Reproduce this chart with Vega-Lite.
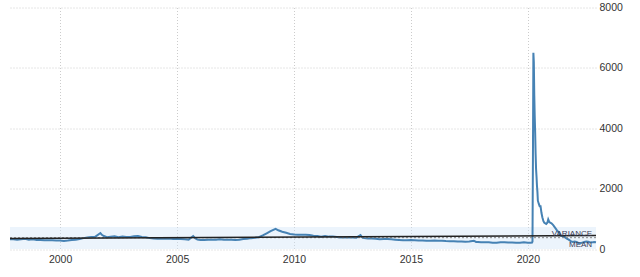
{
  "$schema": "https://vega.github.io/schema/vega-lite/v6.json",
  "autosize": {"type": "none"},
  "width": 586,
  "height": 241.5,
  "padding": {"left": 10, "top": 7.5, "right": 44, "bottom": 28},
  "background": "white",
  "config": {
    "view": {"stroke": null},
    "axis": {"labelFont": "Liberation Sans", "labelFontSize": 10.5, "labelColor": "#333333", "domain": false, "ticks": false, "grid": true, "gridColor": "#cccccc", "gridDash": [1, 2], "gridWidth": 1, "title": null}
  },
  "datasets": {
    "series": [
      {"date": "1997-11-10", "value": 320}, {"date": "1998-01-01", "value": 320}, {"date": "1998-03-01", "value": 310}, {"date": "1998-05-01", "value": 320}, {"date": "1998-07-01", "value": 340}, {"date": "1998-09-01", "value": 310}, {"date": "1998-11-01", "value": 320},
      {"date": "1999-01-01", "value": 300}, {"date": "1999-03-01", "value": 300}, {"date": "1999-05-01", "value": 290}, {"date": "1999-07-01", "value": 290}, {"date": "1999-09-01", "value": 290}, {"date": "1999-11-01", "value": 280},
      {"date": "2000-01-01", "value": 280}, {"date": "2000-03-01", "value": 265}, {"date": "2000-05-01", "value": 280}, {"date": "2000-07-01", "value": 300}, {"date": "2000-09-01", "value": 310}, {"date": "2000-11-01", "value": 330},
      {"date": "2001-01-01", "value": 360}, {"date": "2001-03-01", "value": 380}, {"date": "2001-05-01", "value": 400}, {"date": "2001-07-01", "value": 400}, {"date": "2001-09-22", "value": 530}, {"date": "2001-10-15", "value": 470}, {"date": "2001-11-15", "value": 430},
      {"date": "2002-01-01", "value": 390}, {"date": "2002-03-01", "value": 410}, {"date": "2002-05-01", "value": 420}, {"date": "2002-07-01", "value": 390}, {"date": "2002-09-01", "value": 410}, {"date": "2002-11-01", "value": 400},
      {"date": "2003-01-01", "value": 400}, {"date": "2003-03-01", "value": 420}, {"date": "2003-05-01", "value": 430}, {"date": "2003-07-01", "value": 400}, {"date": "2003-09-01", "value": 390}, {"date": "2003-11-01", "value": 360},
      {"date": "2004-01-01", "value": 350}, {"date": "2004-03-01", "value": 340}, {"date": "2004-05-01", "value": 340}, {"date": "2004-07-01", "value": 340}, {"date": "2004-09-01", "value": 350}, {"date": "2004-11-01", "value": 330},
      {"date": "2005-01-01", "value": 330}, {"date": "2005-03-01", "value": 330}, {"date": "2005-05-01", "value": 320}, {"date": "2005-07-01", "value": 310}, {"date": "2005-09-10", "value": 430}, {"date": "2005-10-10", "value": 360}, {"date": "2005-11-15", "value": 310},
      {"date": "2006-01-01", "value": 300}, {"date": "2006-03-01", "value": 300}, {"date": "2006-05-01", "value": 310}, {"date": "2006-07-01", "value": 310}, {"date": "2006-09-01", "value": 310}, {"date": "2006-11-01", "value": 320},
      {"date": "2007-01-01", "value": 310}, {"date": "2007-03-01", "value": 310}, {"date": "2007-05-01", "value": 310}, {"date": "2007-07-01", "value": 300}, {"date": "2007-09-01", "value": 310}, {"date": "2007-11-01", "value": 330},
      {"date": "2008-01-01", "value": 340}, {"date": "2008-03-01", "value": 360}, {"date": "2008-05-01", "value": 370}, {"date": "2008-07-01", "value": 390}, {"date": "2008-09-01", "value": 450}, {"date": "2008-11-01", "value": 520},
      {"date": "2009-01-01", "value": 590}, {"date": "2009-03-20", "value": 670}, {"date": "2009-05-01", "value": 620}, {"date": "2009-07-01", "value": 570}, {"date": "2009-09-01", "value": 540}, {"date": "2009-11-01", "value": 500},
      {"date": "2010-01-01", "value": 480}, {"date": "2010-03-01", "value": 470}, {"date": "2010-05-01", "value": 470}, {"date": "2010-07-01", "value": 470}, {"date": "2010-09-01", "value": 460}, {"date": "2010-11-01", "value": 440},
      {"date": "2011-01-01", "value": 430}, {"date": "2011-03-01", "value": 410}, {"date": "2011-05-01", "value": 430}, {"date": "2011-07-01", "value": 410}, {"date": "2011-09-01", "value": 410}, {"date": "2011-11-01", "value": 400},
      {"date": "2012-01-01", "value": 380}, {"date": "2012-03-01", "value": 380}, {"date": "2012-05-01", "value": 390}, {"date": "2012-07-01", "value": 380}, {"date": "2012-09-01", "value": 375}, {"date": "2012-11-05", "value": 460}, {"date": "2012-12-10", "value": 370},
      {"date": "2013-01-01", "value": 360}, {"date": "2013-03-01", "value": 350}, {"date": "2013-05-01", "value": 350}, {"date": "2013-07-01", "value": 340}, {"date": "2013-09-01", "value": 320}, {"date": "2013-11-01", "value": 330},
      {"date": "2014-01-01", "value": 330}, {"date": "2014-03-01", "value": 320}, {"date": "2014-05-01", "value": 310}, {"date": "2014-07-01", "value": 300}, {"date": "2014-09-01", "value": 290}, {"date": "2014-11-01", "value": 290},
      {"date": "2015-01-01", "value": 295}, {"date": "2015-03-01", "value": 290}, {"date": "2015-05-01", "value": 285}, {"date": "2015-07-01", "value": 280}, {"date": "2015-09-01", "value": 275}, {"date": "2015-11-01", "value": 275},
      {"date": "2016-01-01", "value": 280}, {"date": "2016-03-01", "value": 270}, {"date": "2016-05-01", "value": 275}, {"date": "2016-07-01", "value": 265}, {"date": "2016-09-01", "value": 260}, {"date": "2016-11-01", "value": 255},
      {"date": "2017-01-01", "value": 250}, {"date": "2017-03-01", "value": 245}, {"date": "2017-05-01", "value": 240}, {"date": "2017-07-01", "value": 245}, {"date": "2017-09-10", "value": 275}, {"date": "2017-10-15", "value": 235}, {"date": "2017-11-15", "value": 235},
      {"date": "2018-01-01", "value": 225}, {"date": "2018-03-01", "value": 225}, {"date": "2018-05-01", "value": 220}, {"date": "2018-07-01", "value": 210}, {"date": "2018-09-01", "value": 205}, {"date": "2018-11-01", "value": 220},
      {"date": "2019-01-01", "value": 220}, {"date": "2019-03-01", "value": 215}, {"date": "2019-05-01", "value": 215}, {"date": "2019-07-01", "value": 210}, {"date": "2019-09-01", "value": 210}, {"date": "2019-11-01", "value": 220},
      {"date": "2020-01-01", "value": 210}, {"date": "2020-02-15", "value": 210}, {"date": "2020-03-07", "value": 215}, {"date": "2020-03-14", "value": 250}, {"date": "2020-03-21", "value": 3000}, {"date": "2020-03-28", "value": 6500},
      {"date": "2020-04-04", "value": 6200}, {"date": "2020-04-11", "value": 5100}, {"date": "2020-04-18", "value": 4400}, {"date": "2020-04-25", "value": 3850}, {"date": "2020-05-02", "value": 3150}, {"date": "2020-05-09", "value": 2650},
      {"date": "2020-05-16", "value": 2400}, {"date": "2020-05-23", "value": 2100}, {"date": "2020-05-30", "value": 1900}, {"date": "2020-06-06", "value": 1600}, {"date": "2020-06-20", "value": 1500}, {"date": "2020-07-04", "value": 1420},
      {"date": "2020-07-18", "value": 1420}, {"date": "2020-08-01", "value": 1200}, {"date": "2020-08-15", "value": 1050}, {"date": "2020-09-01", "value": 920}, {"date": "2020-09-15", "value": 870}, {"date": "2020-10-01", "value": 850},
      {"date": "2020-10-15", "value": 830}, {"date": "2020-11-01", "value": 870}, {"date": "2020-11-15", "value": 980}, {"date": "2020-12-01", "value": 900}, {"date": "2020-12-15", "value": 870},
      {"date": "2021-01-05", "value": 850}, {"date": "2021-02-01", "value": 790}, {"date": "2021-03-01", "value": 710}, {"date": "2021-04-01", "value": 620}, {"date": "2021-05-01", "value": 540}, {"date": "2021-06-01", "value": 440},
      {"date": "2021-07-01", "value": 420}, {"date": "2021-08-01", "value": 390}, {"date": "2021-09-01", "value": 340}, {"date": "2021-10-01", "value": 310}, {"date": "2021-11-01", "value": 260}, {"date": "2021-12-01", "value": 235},
      {"date": "2022-01-01", "value": 245}, {"date": "2022-02-01", "value": 230}, {"date": "2022-03-01", "value": 200}, {"date": "2022-04-01", "value": 190}, {"date": "2022-05-01", "value": 210}, {"date": "2022-06-01", "value": 230},
      {"date": "2022-07-01", "value": 250}, {"date": "2022-08-01", "value": 240}, {"date": "2022-09-01", "value": 215}, {"date": "2022-10-01", "value": 220}, {"date": "2022-11-01", "value": 235}, {"date": "2022-12-01", "value": 225}
    ],
    "band": [{"date": "1997-11-10", "date2": "2022-12-01", "value": 0, "value2": 730}],
    "mean": [{"date": "1997-11-10", "value": 375}, {"date": "2022-12-01", "value": 375}],
    "trend": [{"date": "1997-11-10", "value": 350}, {"date": "2022-12-01", "value": 445}],
    "labels": [{"date": "2022-10-01", "value": 487, "label": "VARIANCE"}, {"date": "2022-10-01", "value": 135, "label": "MEAN"}]
  },
  "encoding": {
    "x": {
      "field": "date", "type": "temporal",
      "scale": {"domain": [{"year": 1997, "month": 11, "date": 10}, {"year": 2022, "month": 12, "date": 1}]},
      "axis": {"values": [{"year": 2000, "month": 1, "date": 1}, {"year": 2005, "month": 1, "date": 1}, {"year": 2010, "month": 1, "date": 1}, {"year": 2015, "month": 1, "date": 1}, {"year": 2020, "month": 1, "date": 1}], "format": "%Y", "labelPadding": 5, "labelFlush": false}
    },
    "y": {
      "field": "value", "type": "quantitative",
      "scale": {"domain": [0, 8000], "nice": false},
      "axis": {"orient": "right", "values": [0, 2000, 4000, 6000, 8000], "format": "d", "labelPadding": 3}
    }
  },
  "layer": [
    {
      "data": {"name": "band"},
      "mark": {"type": "rect", "fill": "#cfe4f7", "opacity": 0.4},
      "encoding": {"x2": {"field": "date2"}, "y2": {"field": "value2"}}
    },
    {
      "data": {"name": "series"},
      "mark": {"type": "line", "color": "#4682b4", "strokeWidth": 2},
      "encoding": {}
    },
    {
      "data": {"name": "mean"},
      "mark": {"type": "line", "color": "#888888", "strokeWidth": 1, "strokeDash": [2, 2]},
      "encoding": {}
    },
    {
      "data": {"name": "trend"},
      "mark": {"type": "line", "color": "#222222", "strokeWidth": 1.5},
      "encoding": {}
    },
    {
      "data": {"name": "labels"},
      "mark": {"type": "text", "align": "right", "baseline": "middle", "font": "Liberation Sans", "fontSize": 8, "color": "#3a3a55"},
      "encoding": {"text": {"field": "label"}}
    }
  ]
}
